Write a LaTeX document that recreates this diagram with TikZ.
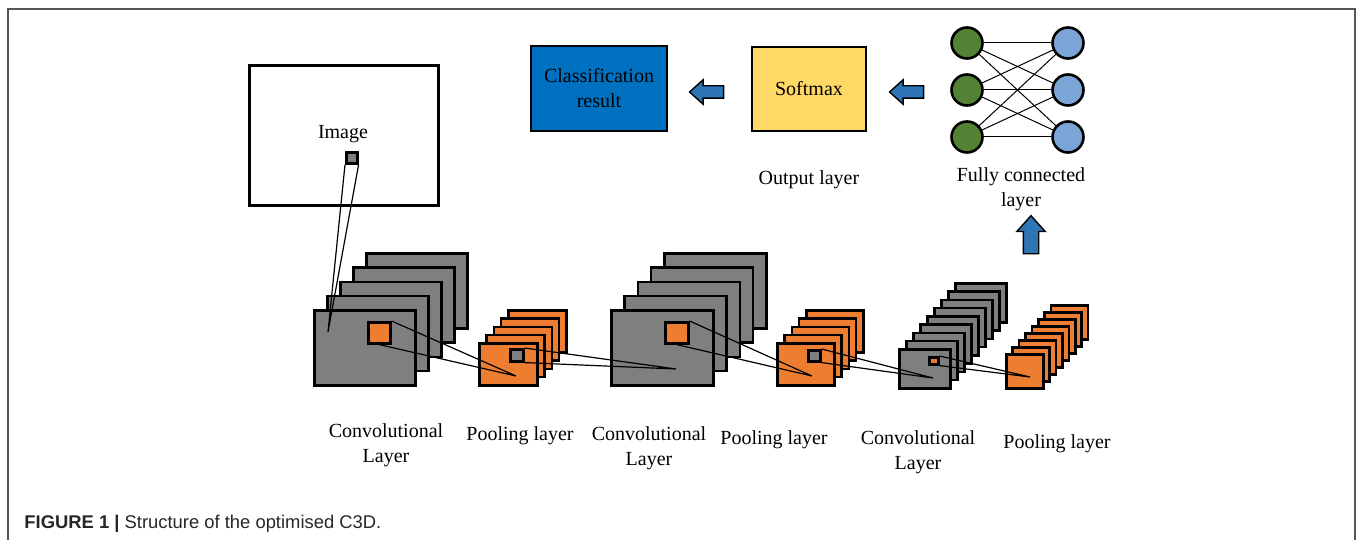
\documentclass[tikz,border=0pt]{standalone}
\usepackage{fontspec}
\setmainfont{Liberation Serif}
\newfontfamily\capfont{Liberation Sans}
\usetikzlibrary{shapes.arrows}
\definecolor{mapgray}{HTML}{7F7F7F}
\definecolor{maporange}{HTML}{ED7D31}
\definecolor{resblue}{HTML}{0070C0}
\definecolor{softyellow}{HTML}{FFD966}
\definecolor{arrowblue}{HTML}{2E75B6}
\definecolor{ingreen}{HTML}{548235}
\definecolor{outblue}{HTML}{7BA5D7}
\definecolor{framegray}{HTML}{555555}
\begin{document}
\begin{tikzpicture}[x=0.5pt,y=-0.5pt,font=\fontsize{10}{12.5}\selectfont]

% Styles
\tikzset{
    fmap/.style={draw,line width=1.3pt,inner sep=0pt,anchor=north west},
    convmap/.style={fmap,fill=mapgray},
    poolmap/.style={fmap,fill=maporange},
    link/.style={line width=0.6pt},
    box/.style={draw,line width=1.3pt,align=center,inner sep=0pt},
    neuron/.style={circle,draw,line width=1.3pt,minimum size=15.5pt,inner sep=0pt},
    flow/.style={single arrow,draw,line width=0.7pt,fill=arrowblue,
        inner xsep=0pt,inner ysep=2.75pt,minimum height=17pt,
        single arrow head extend=3pt,single arrow tip angle=84}
}

\useasboundingbox (0,0) rectangle (1360,540);
\draw[framegray,line width=1pt] (8,540) -- (8,9) -- (1355,9) -- (1355,540);

% Input image
\node[box,minimum width=94.5pt,minimum height=70pt,anchor=north west] (img) at (248,64) {};
\node (imgtxt) at (343,134) {Image};
\node[convmap,minimum width=5.5pt,minimum height=5.5pt] (imgs) at (345,151) {};

% Feature maps
\foreach \i in {4,...,0}
    \node[convmap,minimum width=50.5pt,minimum height=37.5pt] (c1-\i) at ({313+13*\i},{309-14.25*\i}) {};
\foreach \i in {4,...,0}
    \node[poolmap,minimum width=29pt,minimum height=21pt] (p1-\i) at ({478+7.25*\i},{342-8.25*\i}) {};
\foreach \i in {4,...,0}
    \node[convmap,minimum width=51pt,minimum height=37.5pt] (c2-\i) at ({610+13.25*\i},{309-14.25*\i}) {};
\foreach \i in {4,...,0}
    \node[poolmap,minimum width=28.5pt,minimum height=21pt] (p2-\i) at ({776+7.25*\i},{342-8.25*\i}) {};
\foreach \i in {8,...,0}
    \node[convmap,minimum width=25.5pt,minimum height=19.5pt] (c3-\i) at ({898+7*\i},{348-8.25*\i}) {};
\foreach \i in {7,...,0}
    \node[poolmap,minimum width=18.5pt,minimum height=17pt] (p3-\i) at ({1005+6.4*\i},{353-7*\i}) {};

% Receptive fields
\node[poolmap,minimum width=11pt,minimum height=10.5pt] (c1s) at (367,321) {};
\node[convmap,minimum width=6.5pt,minimum height=6pt] (p1s) at (509,348) {};
\node[poolmap,minimum width=11.5pt,minimum height=10.5pt] (c2s) at (664,321) {};
\node[convmap,minimum width=6pt,minimum height=5.5pt] (p2s) at (807,349) {};
\node[poolmap,minimum width=4.5pt,minimum height=3.5pt] (c3s) at (928,356) {};

\coordinate (c1t) at (328,332);
\coordinate (p1t) at (516,376);
\coordinate (c2t) at (676,369);
\coordinate (p2t) at (812,376);
\coordinate (c3t) at (933,378);
\coordinate (p3t) at (1030,377);

\draw[link] (imgs.south west) -- (c1t) -- (imgs.south east);
\draw[link] (c1s.north east) -- (p1t) -- (c1s.south);
\draw[link] (p1s.north east) -- (c2t) -- (p1s.south east);
\draw[link] (c2s.north east) -- (p2t) -- (c2s.south);
\draw[link] (p2s.north east) -- (c3t) -- (p2s.south east);
\draw[link] (c3s.north east) -- (p3t) -- (c3s.south east);

% Fully connected layer
\foreach \i/\y in {1/43,2/90,3/137} {
    \node[neuron,fill=ingreen] (g\i) at (967,\y) {};
    \node[neuron,fill=outblue] (b\i) at (1068,\y) {};
}
\foreach \i in {1,2,3}
    \foreach \j in {1,2,3}
        \draw[line width=0.5pt] (g\i) -- (b\j);

% Output layer
\node[box,fill=softyellow,minimum width=57pt,minimum height=42pt] (soft) at (809,89) {Softmax};
\node[box,fill=resblue,minimum width=68pt,minimum height=42.5pt] (cls) at (599,88.5) {Classification\\result};
\node[flow,shape border rotate=180] (a1) at (710,92) {};
\node[flow,shape border rotate=180] (a2) at (910,92) {};
\node[flow,shape border rotate=90,minimum height=19pt,inner xsep=3.5pt,inner ysep=0pt,single arrow head extend=3.25pt] (a3) at (1031,239) {};

% Labels
\node (lout) at (809,180) {Output layer};
\node[align=center] (lfc) at (1021,189.5) {Fully connected\\layer};
\node[align=center] (lc1) at (386,445.5) {Convolutional\\Layer};
\node (lp1) at (520,436) {Pooling layer};
\node[align=center] (lc2) at (649,448) {Convolutional\\Layer};
\node (lp2) at (774,440) {Pooling layer};
\node[align=center] (lc3) at (918,452) {Convolutional\\Layer};
\node (lp3) at (1057,444) {Pooling layer};

% Caption
\node[anchor=west,inner sep=0pt,font=\capfont\fontsize{9.2}{11}\selectfont,text=black!85] (cap) at (24,524)
    {\textbf{FIGURE 1 |} Structure of the optimised C3D.};

\end{tikzpicture}
\end{document}
